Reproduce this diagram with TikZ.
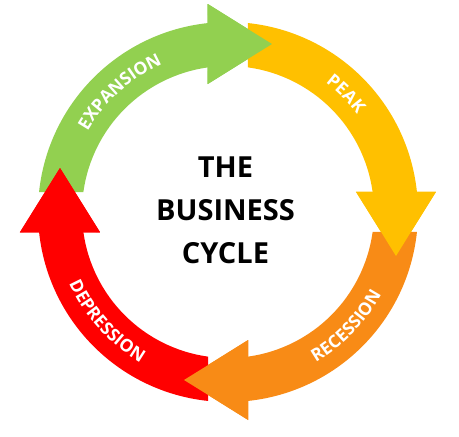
\documentclass[tikz,border=0pt]{standalone}
\usepackage{fontspec}
\setmainfont{Open Sans}
\usetikzlibrary{decorations.text}

\definecolor{expgreen}{HTML}{92D050}
\definecolor{peakyellow}{HTML}{FFC000}
\definecolor{recorange}{HTML}{F88B16}
\definecolor{depred}{HTML}{FF0000}

\begin{document}
\begin{tikzpicture}[x=1pt, y=1pt,
    arclabel/.style={decorate, decoration={text along path, text align=center,
        text color=white, text={|\bfseries\fontsize{17.5}{17.5}\selectfont|#1}}}]

  \useasboundingbox (-228,-225) rectangle (231,212);

  % Arrows (clockwise, one per quarter)
  \foreach \col [count=\i from 0] in {expgreen,peakyellow,recorange,depred}
    \fill[\col, rotate=-90*\i] ({180-asin(20/190)}:190)
      arc[start angle={180-asin(20/190)}, end angle={90+asin(20/190)}, radius=190]
      -- (-20,208) -- (44,168) -- (-20,128) -- ({90+asin(20/146)}:146)
      arc[start angle={90+asin(20/146)}, end angle={180-asin(20/146)}, radius=146]
      -- cycle;

  % Heads over the start of the next arrow
  \foreach \col [count=\i from 0] in {expgreen,peakyellow,recorange,depred}
    \fill[\col, rotate=-90*\i] (-20.5,208) -- (44,168) -- (-20.5,128) -- cycle;

  % Labels
  \path[arclabel=EXPANSION] (172:161.8) arc[start angle=172, end angle=92, radius=161.8];
  \path[arclabel=PEAK] (85:161.8) arc[start angle=85, end angle=5, radius=161.8];
  \path[arclabel=RECESSION] (-84:174.2) arc[start angle=-84, end angle=-4, radius=174.2];
  \path[arclabel=DEPRESSION] (182:174.2) arc[start angle=182, end angle=262, radius=174.2];

  % Title
  \node[font=\bfseries\fontsize{29}{43}\selectfont, align=center] (title) at (-2.5,2) {THE\\BUSINESS\\CYCLE};

\end{tikzpicture}
\end{document}
